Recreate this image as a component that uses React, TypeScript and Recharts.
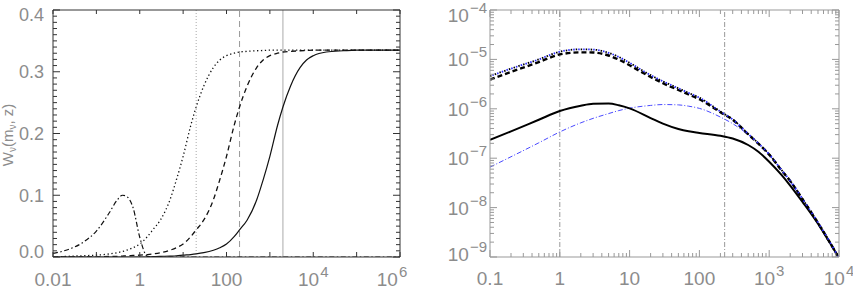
import React from "react";
import { LineChart, Line, XAxis, YAxis, ReferenceLine } from "recharts";

// ---- left panel: W_nu(m_nu, z) vs z ----
const zGrid = [0.01, 0.02, 0.05, 0.1, 0.2, 0.3, 0.4, 0.5, 0.7, 1, 1.5, 2, 3, 5, 7, 10, 15, 20, 30, 50, 70, 100, 150, 200, 300, 500, 700, 1000, 1500, 2000, 3000, 5000, 7000, 1e4, 2e4, 5e4, 1e5, 1e6];
const wDotted = [0, 0.001, 0.002, 0.003, 0.005, 0.007, 0.009, 0.011, 0.015, 0.021, 0.033, 0.044, 0.06, 0.093, 0.125, 0.163, 0.213, 0.243, 0.277, 0.307, 0.319, 0.326, 0.33, 0.332, 0.333, 0.334, 0.3345, 0.335, 0.335, 0.335, 0.335, 0.335, 0.335, 0.335, 0.335, 0.335, 0.335, 0.335];
const wDashed = [0, 0, 0, 0, 0.001, 0.001, 0.0015, 0.002, 0.0025, 0.003, 0.004, 0.005, 0.007, 0.011, 0.015, 0.021, 0.033, 0.044, 0.06, 0.093, 0.125, 0.163, 0.213, 0.243, 0.277, 0.307, 0.319, 0.326, 0.33, 0.332, 0.333, 0.334, 0.3345, 0.335, 0.335, 0.335, 0.335, 0.335];
const wSolid = [0, 0, 0, 0, 0, 0, 0, 0, 0, 0, 0, 0.0005, 0.001, 0.0015, 0.002, 0.003, 0.004, 0.005, 0.007, 0.011, 0.015, 0.021, 0.033, 0.044, 0.06, 0.093, 0.125, 0.163, 0.213, 0.243, 0.277, 0.307, 0.319, 0.326, 0.332, 0.334, 0.335, 0.335];
const wDashDot = [0.006, 0.011, 0.024, 0.042, 0.072, 0.092, 0.1, 0.098, 0.08, 0.032, 0.001, 0, 0, 0, 0, 0, 0, 0, 0, 0, 0, 0, 0, 0, 0, 0, 0, 0, 0, 0, 0, 0, 0, 0, 0, 0, 0, 0];
const zMarks = [20, 200, 2000];

// ---- right panel ----
const kGrid = [0.1, 0.2, 0.5, 1, 2, 3, 5, 7, 10, 20, 30, 50, 70, 100, 200, 300, 500, 700, 1000, 1500, 2000, 3000, 5000, 7000, 1e4];
const pTop = [4.6e-6, 6.5e-6, 1.0e-5, 1.43e-5, 1.6e-5, 1.58e-5, 1.36e-5, 1.12e-5, 8.5e-6, 4.8e-6, 3.6e-6, 2.6e-6, 2.1e-6, 1.68e-6, 8.8e-7, 6.1e-7, 3.1e-7, 2.0e-7, 1.2e-7, 5.8e-8, 3.5e-8, 1.5e-8, 5.0e-9, 2.3e-9, 9.5e-10];
const pDashed = [3.9e-6, 5.6e-6, 8.8e-6, 1.26e-5, 1.39e-5, 1.38e-5, 1.2e-5, 9.9e-6, 7.6e-6, 4.4e-6, 3.3e-6, 2.4e-6, 1.95e-6, 1.56e-6, 8.5e-7, 6.0e-7, 3.05e-7, 1.97e-7, 1.18e-7, 5.7e-8, 3.45e-8, 1.48e-8, 4.9e-9, 2.25e-9, 9.5e-10];
const pSolid = [2.35e-7, 3.5e-7, 6.0e-7, 9.0e-7, 1.15e-6, 1.26e-6, 1.28e-6, 1.18e-6, 1.02e-6, 6.5e-7, 5.0e-7, 3.9e-7, 3.5e-7, 3.25e-7, 2.85e-7, 2.5e-7, 1.85e-7, 1.35e-7, 8.5e-8, 4.6e-8, 2.8e-8, 1.3e-8, 4.7e-9, 2.2e-9, 9.5e-10];
const pDashDot = [6.6e-8, 1.07e-7, 2.05e-7, 3.4e-7, 5.2e-7, 6.4e-7, 8.0e-7, 9.2e-7, 1.03e-6, 1.17e-6, 1.22e-6, 1.2e-6, 1.13e-6, 1.02e-6, 6.8e-7, 5.0e-7, 3.0e-7, 2.05e-7, 1.18e-7, 5.6e-8, 3.3e-8, 1.45e-8, 4.9e-9, 2.25e-9, 9.5e-10];
const kMarks = [1, 230];

// ticks
const zTicks = [0.01, 0.1, 1, 10, 100, 1000, 1e4, 1e5, 1e6];
const zTickLabels = ["0.01", "", "1", "", "100", "", "10^4", "", "10^6"];
const wTicks = Array.from({ length: 41 }, (_, i) => i / 100);
const kTickLabels = ["0.1", "1", "10", "100", "10^3", "10^4"];

function logTicks(lo: number, hi: number) {
  const out: number[] = [];
  for (let e = lo; e < hi; e++) {
    for (let m = 1; m < 10; m++) out.push(m * Math.pow(10, e));
  }
  out.push(Math.pow(10, hi));
  return out;
}
const kTicks = logTicks(-1, 4);
const pTicks = logTicks(-9, -4);

const leftData = zGrid.map((z, i) => ({
  z,
  dotted: wDotted[i],
  dashed: wDashed[i],
  solid: wSolid[i],
  dashdot: wDashDot[i],
}));
const rightData = kGrid.map((k, i) => ({
  k,
  top: pTop[i],
  dashed: pDashed[i],
  solid: pSolid[i],
  dashdot: pDashDot[i],
}));

const FONT = "Liberation Sans, Arial, sans-serif";
const LABEL = "#8c8c8c";

const isDecade = (v: number) => Math.abs(Math.log10(v) - Math.round(Math.log10(v))) < 1e-6;

function PowText({ x, y, text, anchor }: { x: number; y: number; text: string; anchor: "middle" | "end" }) {
  const [base, exp] = text.split("^");
  return (
    <text x={x} y={y} textAnchor={anchor} fontFamily={FONT} fontSize={19} fill={LABEL}>
      <tspan>{base}</tspan>
      {exp !== undefined && (
        <tspan dy={-9} dx={1} fontSize={15}>
          {exp.replace("-", "\u2212")}
        </tspan>
      )}
    </text>
  );
}

type Side = "bottom" | "top" | "left" | "right";

function tickMark(
  side: Side,
  color: string,
  major: (v: number) => boolean,
  majorLen: number,
  minorLen: number,
  label?: (v: number, x: number, y: number) => React.ReactNode
) {
  return (props: any) => {
    const { x, y, payload } = props;
    const v = payload.value as number;
    const len = major(v) ? majorLen : minorLen;
    let x2 = x;
    let y2 = y;
    if (side === "bottom") y2 = y - len;
    if (side === "top") y2 = y + len;
    if (side === "left") x2 = x + len;
    if (side === "right") x2 = x - len;
    return (
      <g>
        <line x1={x} y1={y} x2={x2} y2={y2} stroke={color} strokeWidth={1} />
        {label ? label(v, x, y) : null}
      </g>
    );
  };
}

function LeftPanel() {
  const frame = "#333";
  const zLabel = (v: number, x: number, y: number) => {
    const i = zTicks.findIndex((t) => Math.abs(Math.log10(t) - Math.log10(v)) < 1e-6);
    const t = i >= 0 ? zTickLabels[i] : "";
    if (!t) return null;
    return <PowText x={v === 1e6 ? x - 8 : x} y={y + 29} text={t} anchor="middle" />;
  };
  const wLabel = (v: number, x: number, y: number) => {
    const i = Math.round(v * 100);
    if (i % 10 !== 0) return null;
    let dy = 6.5;
    if (i === 0) dy = 0.5;
    if (i === 40) dy = 11;
    return (
      <text x={x - 9} y={y + dy} textAnchor="end" fontFamily={FONT} fontSize={18} fill={LABEL}>
        {v.toFixed(1)}
      </text>
    );
  };
  const wMajor = (v: number) => Math.round(v * 100) % 10 === 0;
  return (
    <LineChart width={430} height={291} data={leftData} margin={{ top: 9, right: 29, bottom: 33, left: 52 }}>
      <XAxis xAxisId="b" dataKey="z" type="number" scale="log" domain={[0.01, 1e6]} allowDataOverflow ticks={zTicks} interval={0} height={1} tickSize={0} tickMargin={0} tickLine={false} axisLine={{ stroke: frame }} tick={tickMark("bottom", frame, () => true, 5, 5, zLabel)} />
      <XAxis xAxisId="t" orientation="top" dataKey="z" type="number" scale="log" domain={[0.01, 1e6]} allowDataOverflow ticks={zTicks} interval={0} height={1} tickSize={0} tickMargin={0} tickLine={false} axisLine={{ stroke: frame }} tick={tickMark("top", frame, () => true, 4, 4)} />
      <YAxis yAxisId="l" type="number" domain={[0, 0.4]} allowDataOverflow ticks={wTicks} interval={0} width={1} tickSize={0} tickMargin={0} tickLine={false} axisLine={{ stroke: frame }} tick={tickMark("left", frame, wMajor, 7, 4, wLabel)} />
      <YAxis yAxisId="r" orientation="right" type="number" domain={[0, 0.4]} allowDataOverflow ticks={wTicks} interval={0} width={1} tickSize={0} tickMargin={0} tickLine={false} axisLine={{ stroke: frame }} tick={tickMark("right", frame, wMajor, 7, 4)} />
      <ReferenceLine xAxisId="b" yAxisId="l" x={zMarks[0]} stroke="#aaa" strokeDasharray="1 2" />
      <ReferenceLine xAxisId="b" yAxisId="l" x={zMarks[1]} stroke="#999" strokeDasharray="6 4" />
      <ReferenceLine xAxisId="b" yAxisId="l" x={zMarks[2]} stroke="#aaa" />
      <Line xAxisId="b" yAxisId="l" type="monotone" dataKey="dashdot" stroke="#111" strokeWidth={1.2} strokeDasharray="5 2.5 1.5 2.5" dot={false} isAnimationActive={false} />
      <Line xAxisId="b" yAxisId="l" type="monotone" dataKey="dotted" stroke="#111" strokeWidth={1.3} strokeDasharray="1.3 2.6" dot={false} isAnimationActive={false} />
      <Line xAxisId="b" yAxisId="l" type="monotone" dataKey="dashed" stroke="#111" strokeWidth={1.3} strokeDasharray="5 3.5" dot={false} isAnimationActive={false} />
      <Line xAxisId="b" yAxisId="l" type="monotone" dataKey="solid" stroke="#111" strokeWidth={1.2} dot={false} isAnimationActive={false} />
    </LineChart>
  );
}

function RightPanel() {
  const frame = "#999";
  const kLabel = (v: number, x: number, y: number) => {
    if (!isDecade(v)) return null;
    const i = Math.round(Math.log10(v)) + 1;
    return <PowText x={x} y={y + 28} text={kTickLabels[i]} anchor="middle" />;
  };
  const pLabel = (v: number, x: number, y: number) => {
    if (!isDecade(v)) return null;
    const e = Math.round(Math.log10(v));
    let dy = 7;
    if (e === -4) dy = 12;
    if (e === -9) dy = 4;
    return <PowText x={x - 3} y={y + dy} text={`10^${e}`} anchor="end" />;
  };
  return (
    <LineChart width={423} height={291} data={rightData} margin={{ top: 9, right: 13, bottom: 33, left: 59 }}>
      <XAxis xAxisId="b" dataKey="k" type="number" scale="log" domain={[0.1, 1e4]} allowDataOverflow ticks={kTicks} interval={0} height={1} tickSize={0} tickMargin={0} tickLine={false} axisLine={{ stroke: frame }} tick={tickMark("bottom", frame, isDecade, 7, 4, kLabel)} />
      <XAxis xAxisId="t" orientation="top" dataKey="k" type="number" scale="log" domain={[0.1, 1e4]} allowDataOverflow ticks={kTicks} interval={0} height={1} tickSize={0} tickMargin={0} tickLine={false} axisLine={{ stroke: frame }} tick={tickMark("top", frame, isDecade, 7, 4)} />
      <YAxis yAxisId="l" type="number" scale="log" domain={[1e-9, 1e-4]} allowDataOverflow ticks={pTicks} interval={0} width={1} tickSize={0} tickMargin={0} tickLine={false} axisLine={{ stroke: frame }} tick={tickMark("left", frame, isDecade, 7, 4, pLabel)} />
      <YAxis yAxisId="r" orientation="right" type="number" scale="log" domain={[1e-9, 1e-4]} allowDataOverflow ticks={pTicks} interval={0} width={1} tickSize={0} tickMargin={0} tickLine={false} axisLine={{ stroke: frame }} tick={tickMark("right", frame, isDecade, 7, 4)} />
      {kMarks.map((k) => (
        <ReferenceLine key={k} xAxisId="b" yAxisId="l" x={k} stroke="#999" strokeDasharray="5 2 1 2" />
      ))}
      <Line xAxisId="b" yAxisId="l" type="monotone" dataKey="dashdot" stroke="#4a4aff" strokeWidth={1} strokeDasharray="5 2 1 2" dot={false} isAnimationActive={false} />
      <Line xAxisId="b" yAxisId="l" type="monotone" dataKey="solid" stroke="#000" strokeWidth={2} dot={false} isAnimationActive={false} />
      <Line xAxisId="b" yAxisId="l" type="monotone" dataKey="dashed" stroke="#000" strokeWidth={2.4} strokeDasharray="5 3" dot={false} isAnimationActive={false} />
      <Line xAxisId="b" yAxisId="l" type="monotone" dataKey="top" stroke="#000" strokeWidth={1.8} strokeDasharray="1.5 3.5" dot={false} isAnimationActive={false} />
      <Line xAxisId="b" yAxisId="l" type="monotone" dataKey="top" stroke="#2a2aff" strokeWidth={1.8} strokeDasharray="1.5 3.5" strokeDashoffset={2.5} dot={false} isAnimationActive={false} />
    </LineChart>
  );
}

export default function App() {
  return (
    <div style={{ position: "absolute", left: 0, top: 0, width: 853, height: 291, overflow: "hidden", background: "#fff" }}>
      <div style={{ position: "absolute", left: 0, top: 0 }}>
        <LeftPanel />
      </div>
      <div style={{ position: "absolute", left: 430, top: 0 }}>
        <RightPanel />
      </div>
      <svg width={20} height={291} style={{ position: "absolute", left: 0, top: 0 }}>
        <text transform="rotate(-90)" x={-135} y={13} textAnchor="middle" fontFamily={FONT} fontSize={15} fill={LABEL}>
          W<tspan fontSize={10} dy={3}>ν</tspan>
          <tspan dy={-3}>(m</tspan>
          <tspan fontSize={10} dy={3}>ν</tspan>
          <tspan dy={-3}>, z)</tspan>
        </text>
      </svg>
    </div>
  );
}
